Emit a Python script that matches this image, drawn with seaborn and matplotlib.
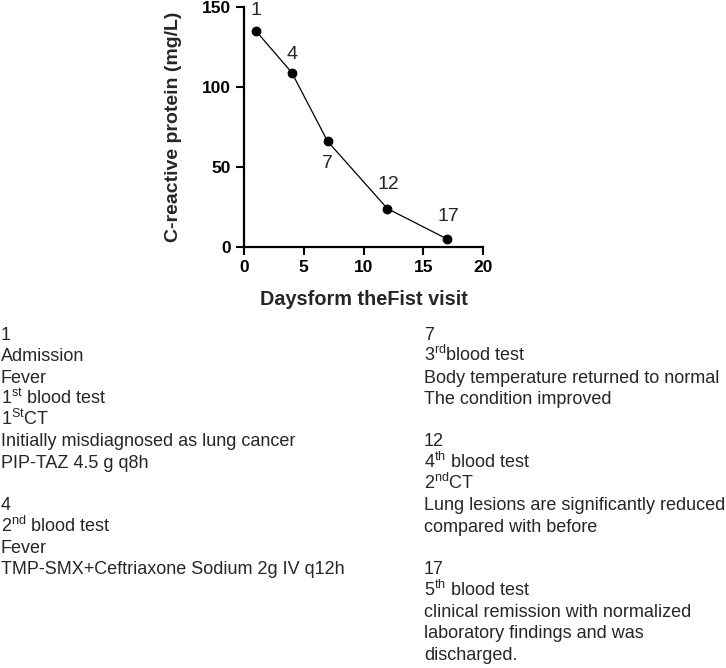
import matplotlib
matplotlib.use("Agg")
import matplotlib.pyplot as plt
import seaborn as sns
import pandas as pd

# ---- data ----
days = [1, 4, 7, 12, 17]
crp = [135, 109, 66, 24, 5]
point_labels = ["1", "4", "7", "12", "17"]
label_dy = [21, 18, -22, 24, 23]   # pixel offsets (above +, below -)
label_dx = [0, 0, 0, 1, 1]
x_ticks = [0, 5, 10, 15, 20]
y_ticks = [0, 50, 100, 150]

left_lines = [
    "1",
    "Admission",
    "Fever",
    r"1$^{\mathrm{st}}$ blood test",
    r"1$^{\mathrm{St}}$CT",
    "Initially misdiagnosed as lung cancer",
    "PIP-TAZ 4.5 g q8h",
    "",
    "4",
    r"2$^{\mathrm{nd}}$ blood test",
    "Fever",
    "TMP-SMX+Ceftriaxone Sodium 2g IV q12h",
]
right_lines = [
    "7",
    r"3$^{\mathrm{rd}}$blood test",
    "Body temperature returned to normal",
    "The condition improved",
    "",
    "12",
    r"4$^{\mathrm{th}}$ blood test",
    r"2$^{\mathrm{nd}}$CT",
    "Lung lesions are significantly reduced",
    "compared with before",
    "",
    "17",
    r"5$^{\mathrm{th}}$ blood test",
    "clinical remission with normalized",
    "laboratory findings and was",
    "discharged.",
]

sns.set_style("ticks")
plt.rcParams["font.family"] = ["Liberation Sans", "DejaVu Sans"]
plt.rcParams["mathtext.fontset"] = "custom"
plt.rcParams["mathtext.rm"] = "Liberation Sans"
plt.rcParams["mathtext.it"] = "Liberation Sans:italic"
plt.rcParams["mathtext.bf"] = "Liberation Sans:bold"

W, H = 726, 668
fig = plt.figure(figsize=(W / 100, H / 100), dpi=100)
ax = fig.add_axes([244 / W, 1 - 247 / H, 239 / W, 240 / H])

df = pd.DataFrame({"day": days, "crp": crp})
sns.lineplot(data=df, x="day", y="crp", ax=ax, color="black", linewidth=0.9,
             marker="o", markersize=6.3, markeredgecolor="black",
             markerfacecolor="black")

ax.set_xlim(0, 20)
ax.set_ylim(0, 150)
ax.set_xticks(x_ticks)
ax.set_yticks(y_ticks)
for lab in ax.get_xticklabels() + ax.get_yticklabels():
    lab.set_fontweight("bold")
ax.tick_params(axis="both", labelsize=12.5, width=1.5, length=6, color="black",
               labelcolor="black")
for s in ["left", "bottom"]:
    ax.spines[s].set_linewidth(1.6)
    ax.spines[s].set_color("black")
sns.despine(ax=ax)
ax.set_xlabel("Daysform theFist visit", fontsize=14.3, fontweight="bold",
              labelpad=11)
ax.set_ylabel("C-reactive protein (mg/L)", fontsize=14, fontweight="bold",
              labelpad=14)

for x, y, t, dx, dy in zip(days, crp, point_labels, label_dx, label_dy):
    ax.annotate(t, (x, y), xytext=(dx, dy), textcoords="offset pixels",
                ha="center", va="center", fontsize=14)

def px_to_fig(x, y):
    return x / W, 1 - y / H

base0 = 340
step = 21.3
fs = 13
for i, line in enumerate(left_lines):
    if line:
        fx, fy = px_to_fig(1, base0 + step * i)
        fig.text(fx, fy, line, ha="left", va="baseline", fontsize=fs)
for i, line in enumerate(right_lines):
    if line:
        fx, fy = px_to_fig(424, base0 + step * i)
        fig.text(fx, fy, line, ha="left", va="baseline", fontsize=fs)

fig.savefig("out.png", dpi=100)
